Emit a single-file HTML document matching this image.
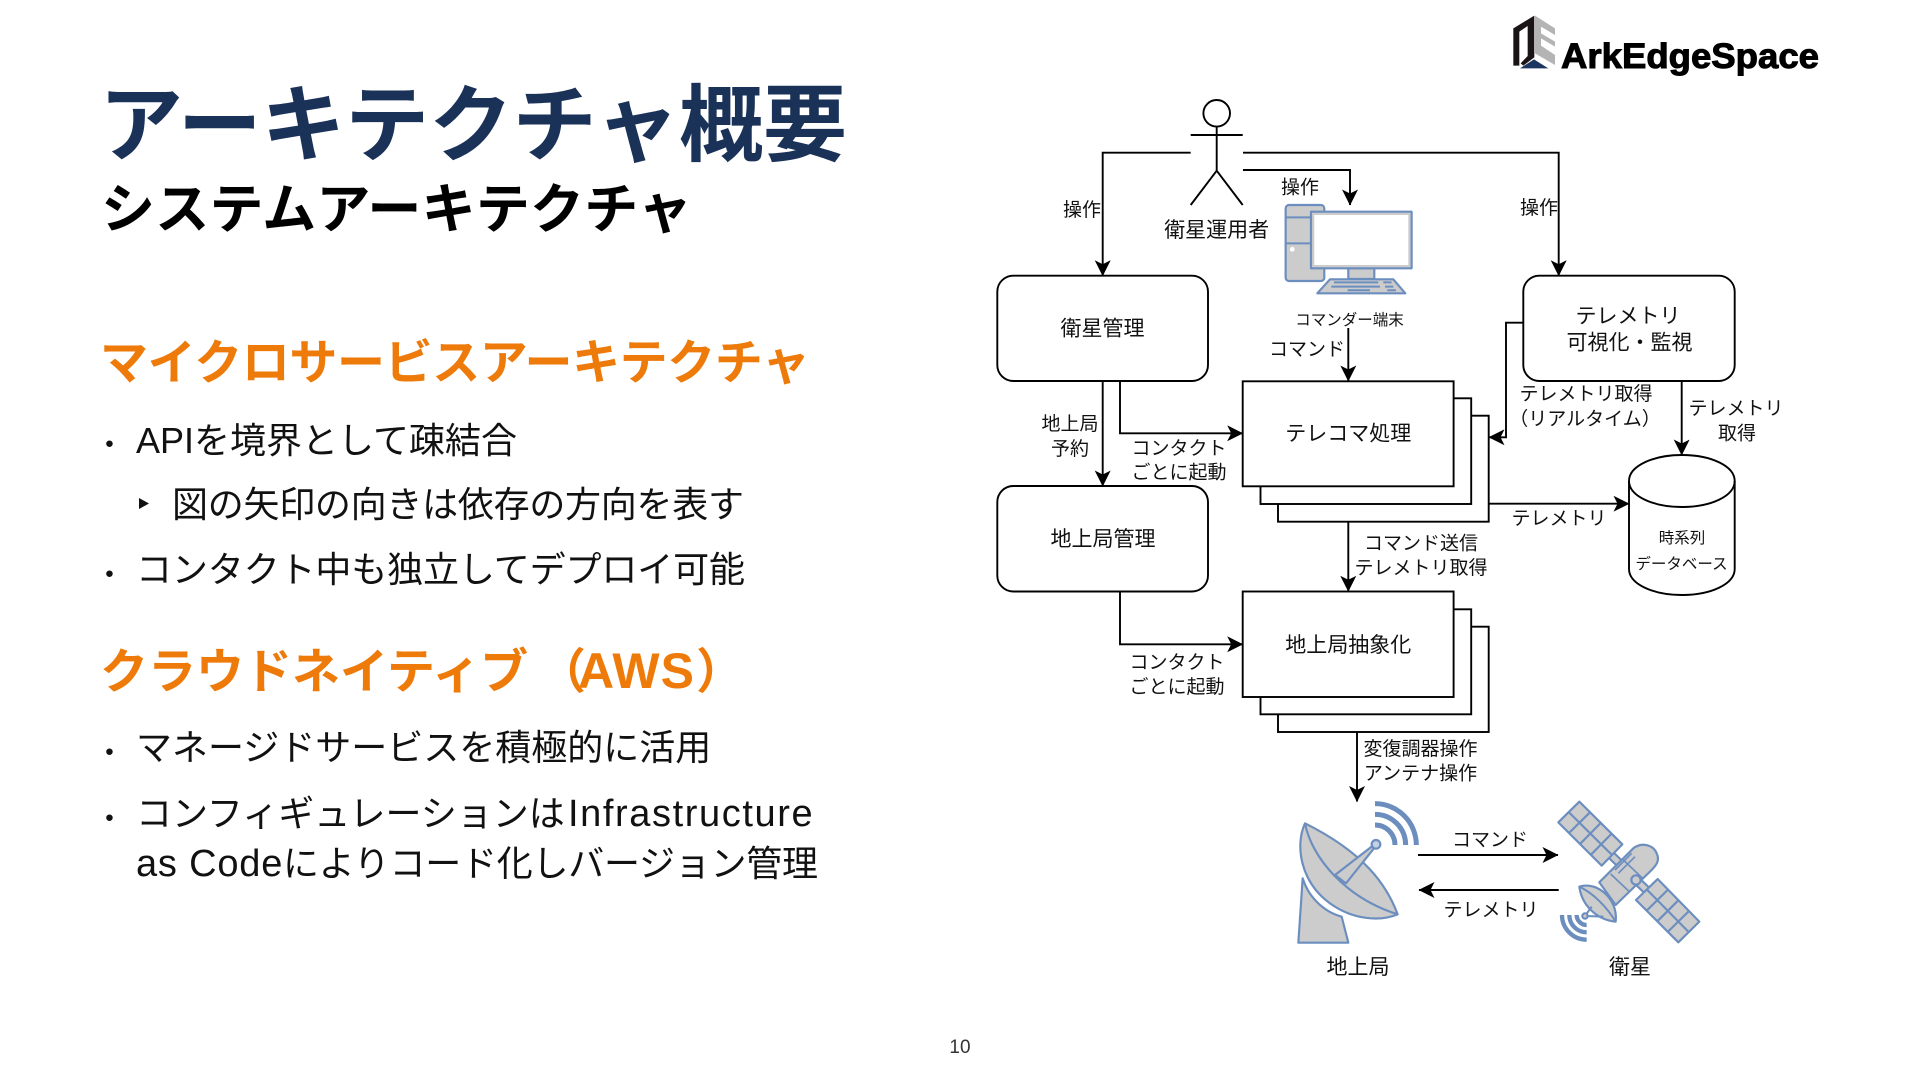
<!DOCTYPE html>
<html lang="ja"><head><meta charset="utf-8"><title>アーキテクチャ概要</title>
<style>
html,body{margin:0;padding:0;background:#fff}
svg{display:block}
text{font-family:"Liberation Sans","Noto Sans CJK JP",sans-serif;fill:#111}
.b{font-size:36px}
.lat{font-size:38px}
.h{font-size:48px;font-weight:700;fill:#ee7a0a}
.l{font-size:21px;text-anchor:middle;transform:translateY(.7px)}
.m{font-size:19px;text-anchor:middle}
.s{font-size:15.5px;text-anchor:middle}
.ln{fill:none;stroke:#000;stroke-width:1.9}
.bx{fill:#fff;stroke:#000;stroke-width:1.9}
.ic{fill:#ccc;stroke:#6c8ebf;stroke-width:6.5;stroke-linejoin:round}
.ar{fill:none;stroke:#6c8ebf}
</style></head><body>
<svg width="1920" height="1080" viewBox="0 0 1920 1080" xmlns="http://www.w3.org/2000/svg">
<defs><marker id="a" markerUnits="userSpaceOnUse" markerWidth="16" markerHeight="16" viewBox="0 0 16 16" refX="15.5" refY="8" orient="auto"><path d="M16,8 L0,0 L4,8 L0,16Z" fill="#000"/></marker></defs>
<rect width="1920" height="1080" fill="#fff"/>

<!-- left text -->
<text x="99" y="154.5" font-size="84" font-weight="700" style="fill:#1a3158" textLength="748">アーキテクチャ概要</text>
<text x="101" y="228" font-size="54" font-weight="700" style="fill:#000" textLength="591">システムアーキテクチャ</text>
<text x="100" y="379" class="h" textLength="710">マイクロサービスアーキテクチャ</text>
<text x="109.5" y="451.5" font-size="24" text-anchor="middle">•</text>
<text x="136" y="453" class="b">APIを境界として疎結合</text>
<polygon points="139,498 149,503.5 139,509" fill="#111"/>
<text x="172" y="517" class="b" textLength="572">図の矢印の向きは依存の方向を表す</text>
<text x="109.5" y="581.5" font-size="24" text-anchor="middle">•</text>
<text x="136" y="582" class="b" textLength="609">コンタクト中も独立してデプロイ可能</text>
<text x="100" y="688" class="h">クラウドネイティブ</text>
<text x="538" y="688" class="h">（</text>
<text x="578" y="688" class="h" style="font-size:50px" textLength="116">AWS</text>
<text x="696" y="688" class="h">）</text>
<text x="109.5" y="759.5" font-size="24" text-anchor="middle">•</text>
<text x="136" y="760" class="b">マネージドサービスを積極的に活用</text>
<text x="109.5" y="825.5" font-size="24" text-anchor="middle">•</text>
<text x="136" y="826" class="b">コンフィギュレーションは</text>
<text x="568" y="826" class="lat" letter-spacing="1.6">Infrastructure</text>
<text x="136" y="876" class="lat" letter-spacing=".8">as Code</text>
<text x="283" y="876" class="b" textLength="535">によりコード化しバージョン管理</text>
<text x="960" y="1053" font-size="19" text-anchor="middle" style="fill:#333">10</text>

<!-- logo -->
<g transform="translate(1480,0) scale(.3333)">
<polygon points="100,85 163,47 163,172 130,197 122,190 143,168 143,78 118,95 118,197 100,197" fill="#1a1416"/>
<polygon points="165,47 225,85 225,105 183,80 183,100 225,125 225,140 183,115 183,137 225,165 225,195 165,160" fill="#b4b4b4"/>
<polygon points="120,205 162,178 205,205" fill="#1a3560"/>
</g>
<text x="1561" y="68" font-size="35" font-weight="700" style="fill:#000;stroke:#000;stroke-width:1" textLength="258" lengthAdjust="spacingAndGlyphs">ArkEdgeSpace</text>

<!-- actor -->
<circle cx="1216.7" cy="113.3" r="13.3" class="bx"/>
<path class="ln" d="M1216.7,127V170.7M1190.7,135H1242.7M1190.7,205L1216.7,170.7L1242.7,205"/>

<!-- computer -->
<g transform="translate(980,80) scale(.3333)">
<rect x="917" y="375" width="116" height="228" rx="10" class="ic"/>
<path class="ar" stroke-width="6" d="M917,412H993M917,490H993"/>
<circle cx="937" cy="508" r="7" fill="#fff"/>
<rect x="1105" y="565" width="78" height="32" class="ic"/>
<rect x="993" y="395" width="302" height="170" class="ic"/>
<rect x="1003" y="405" width="282" height="150" fill="#fff"/>
<polygon points="1012,640 1050,598 1240,598 1276,640" class="ic"/>
<path class="ar" stroke-width="6" d="M1062,607H1195M1210,607H1235M1054,620H1200M1215,620H1240M1103,631H1170M1222,631H1248"/>
</g>

<!-- boxes -->
<rect x="997.3" y="275.7" width="210.7" height="105.3" rx="16" class="bx"/>
<rect x="997.3" y="486" width="210.7" height="105.5" rx="16" class="bx"/>
<rect x="1523.3" y="275.7" width="211.4" height="105.3" rx="16" class="bx"/>
<rect x="1278" y="415.7" width="210.7" height="106" class="bx"/>
<rect x="1260.5" y="398.3" width="210.7" height="105.7" class="bx"/>
<rect x="1242.7" y="381.3" width="210.9" height="105" class="bx"/>
<rect x="1278" y="626.7" width="210.7" height="105.3" class="bx"/>
<rect x="1260.5" y="609.3" width="210.7" height="105" class="bx"/>
<rect x="1242.7" y="591.5" width="210.9" height="105.5" class="bx"/>
<path class="bx" d="M1629,481C1629,466 1653,455 1682,455C1711,455 1734.7,466 1734.7,481V569C1734.7,584 1711,595 1682,595C1653,595 1629,584 1629,569Z"/>
<path class="ln" d="M1629,481C1629,496 1653,507 1682,507C1711,507 1734.7,496 1734.7,481"/>

<!-- connectors -->
<path class="ln" marker-end="url(#a)" d="M1190.7,152.7H1102.7V275.7"/>
<path class="ln" marker-end="url(#a)" d="M1243,152.7H1558.7V275.7"/>
<path class="ln" marker-end="url(#a)" d="M1243,170H1350V205"/>
<path class="ln" marker-end="url(#a)" d="M1348.3,328V381"/>
<path class="ln" marker-end="url(#a)" d="M1102.7,381V486"/>
<path class="ln" marker-end="url(#a)" d="M1120,381V433.3H1242.7"/>
<path class="ln" marker-end="url(#a)" d="M1348.3,521.7V591.3"/>
<path class="ln" marker-end="url(#a)" d="M1120,591.5V644.3H1242.7"/>
<path class="ln" marker-end="url(#a)" d="M1357,732V801.5"/>
<path class="ln" marker-end="url(#a)" d="M1523.3,322.7H1506V437.3H1489"/>
<path class="ln" marker-end="url(#a)" d="M1681.7,381V455"/>
<path class="ln" marker-end="url(#a)" d="M1488.7,503.7H1629"/>
<path class="ln" marker-end="url(#a)" d="M1418,855H1558"/>
<path class="ln" marker-end="url(#a)" d="M1558.7,890H1419"/>

<!-- antenna -->
<g transform="translate(1290,795) scale(.3333)">
<path class="ic" d="M38,250L25,443H175L155,365C100,350 55,305 38,250Z"/>
<path class="ic" d="M45,85C15,150 30,260 120,325C190,375 270,380 323,358C290,270 225,175 45,85Z"/>
<path class="ar" stroke-width="6.5" d="M45,85C65,190 170,310 323,358"/>
<path class="ic" d="M135,240L245,155L252,160L168,265Z"/>
<circle cx="258" cy="148" r="13" class="ic" style="fill:#c4d0e4"/>
<g class="ar" stroke-width="15"><path d="M255,26A124,124 0 0 1 379,150"/><path d="M255,58A92,92 0 0 1 347,150"/><path d="M255,90A60,60 0 0 1 315,150"/></g>
</g>

<!-- satellite -->
<g transform="translate(1550,795) scale(.3333)">
<path d="M178,175L222,218" fill="none" stroke="#6c8ebf" stroke-width="28"/>
<path d="M178,175L222,218" fill="none" stroke="#ccc" stroke-width="15"/>
<path d="M258,255L300,295" fill="none" stroke="#6c8ebf" stroke-width="28"/>
<path d="M258,255L300,295" fill="none" stroke="#ccc" stroke-width="15"/>
<path class="ic" d="M148,262L250,160C275,140 310,150 320,175C330,195 320,210 305,225L197,330Z"/>
<path class="ar" stroke-width="5" d="M195,225L245,175M205,235L255,185M182,237L238,290M220,195L278,250"/>
<circle cx="258" cy="255" r="14" class="ic"/>
<polygon points="88,20 217,148 155,212 25,82" class="ic"/>
<polygon points="323,252 448,380 385,442 258,315" class="ic"/>
<path class="ar" stroke-width="6.5" d="M56,51L186,180M120,52L57,114M152,84L90,147M185,116L122,180M290,283L416,411M354,284L290,347M385,316L322,379M417,348L353,411"/>
<path class="ic" d="M88,275C140,258 205,310 197,380C140,375 95,330 88,275Z"/>
<path class="ar" stroke-width="6" d="M88,275C130,295 170,335 197,380"/>
<path class="ar" stroke-width="6" d="M105,363L125,335M105,363L160,365"/>
<circle cx="105" cy="363" r="8" class="ic"/>
<g class="ar" stroke-width="13"><path d="M36,360A74,74 0 0 0 110,434"/><path d="M58,360A52,52 0 0 0 110,412"/><path d="M80,360A30,30 0 0 0 110,390"/></g>
</g>

<!-- labels -->
<text class="m" x="1082" y="216">操作</text>
<text class="m" x="1300" y="193.5">操作</text>
<text class="m" x="1539" y="214">操作</text>
<text class="l" x="1216.7" y="236.5">衛星運用者</text>
<text class="l" x="1102.5" y="335">衛星管理</text>
<text class="s" x="1349.5" y="325">コマンダー端末</text>
<text class="m" x="1307" y="355.5">コマンド</text>
<text class="m" x="1070" y="430">地上局</text>
<text class="m" x="1070" y="455">予約</text>
<text class="m" x="1179" y="454.5">コンタクト</text>
<text class="m" x="1179" y="478.5">ごとに起動</text>
<text class="l" x="1348.3" y="440">テレコマ処理</text>
<text class="l" x="1103" y="545.5">地上局管理</text>
<text class="m" x="1421" y="549.5">コマンド送信</text>
<text class="m" x="1421" y="574">テレメトリ取得</text>
<text class="l" x="1348.3" y="651.5">地上局抽象化</text>
<text class="m" x="1177" y="668.5">コンタクト</text>
<text class="m" x="1177" y="693">ごとに起動</text>
<text class="m" x="1420.5" y="755">変復調器操作</text>
<text class="m" x="1420.5" y="779.5">アンテナ操作</text>
<text class="l" x="1628" y="322.5">テレメトリ</text>
<text class="l" x="1629.5" y="349">可視化・監視</text>
<text class="m" x="1586" y="400">テレメトリ取得</text>
<text class="m" x="1585" y="425">（リアルタイム）</text>
<text class="m" x="1736" y="414.5">テレメトリ</text>
<text class="m" x="1737" y="439.5">取得</text>
<text class="m" x="1559" y="524.5">テレメトリ</text>
<text class="s" x="1682" y="543">時系列</text>
<text class="s" x="1681.5" y="569">データベース</text>
<text class="m" x="1490" y="846">コマンド</text>
<text class="m" x="1491" y="916">テレメトリ</text>
<text class="l" x="1358" y="973.5">地上局</text>
<text class="l" x="1630" y="973.5">衛星</text>
</svg>
</body></html>
